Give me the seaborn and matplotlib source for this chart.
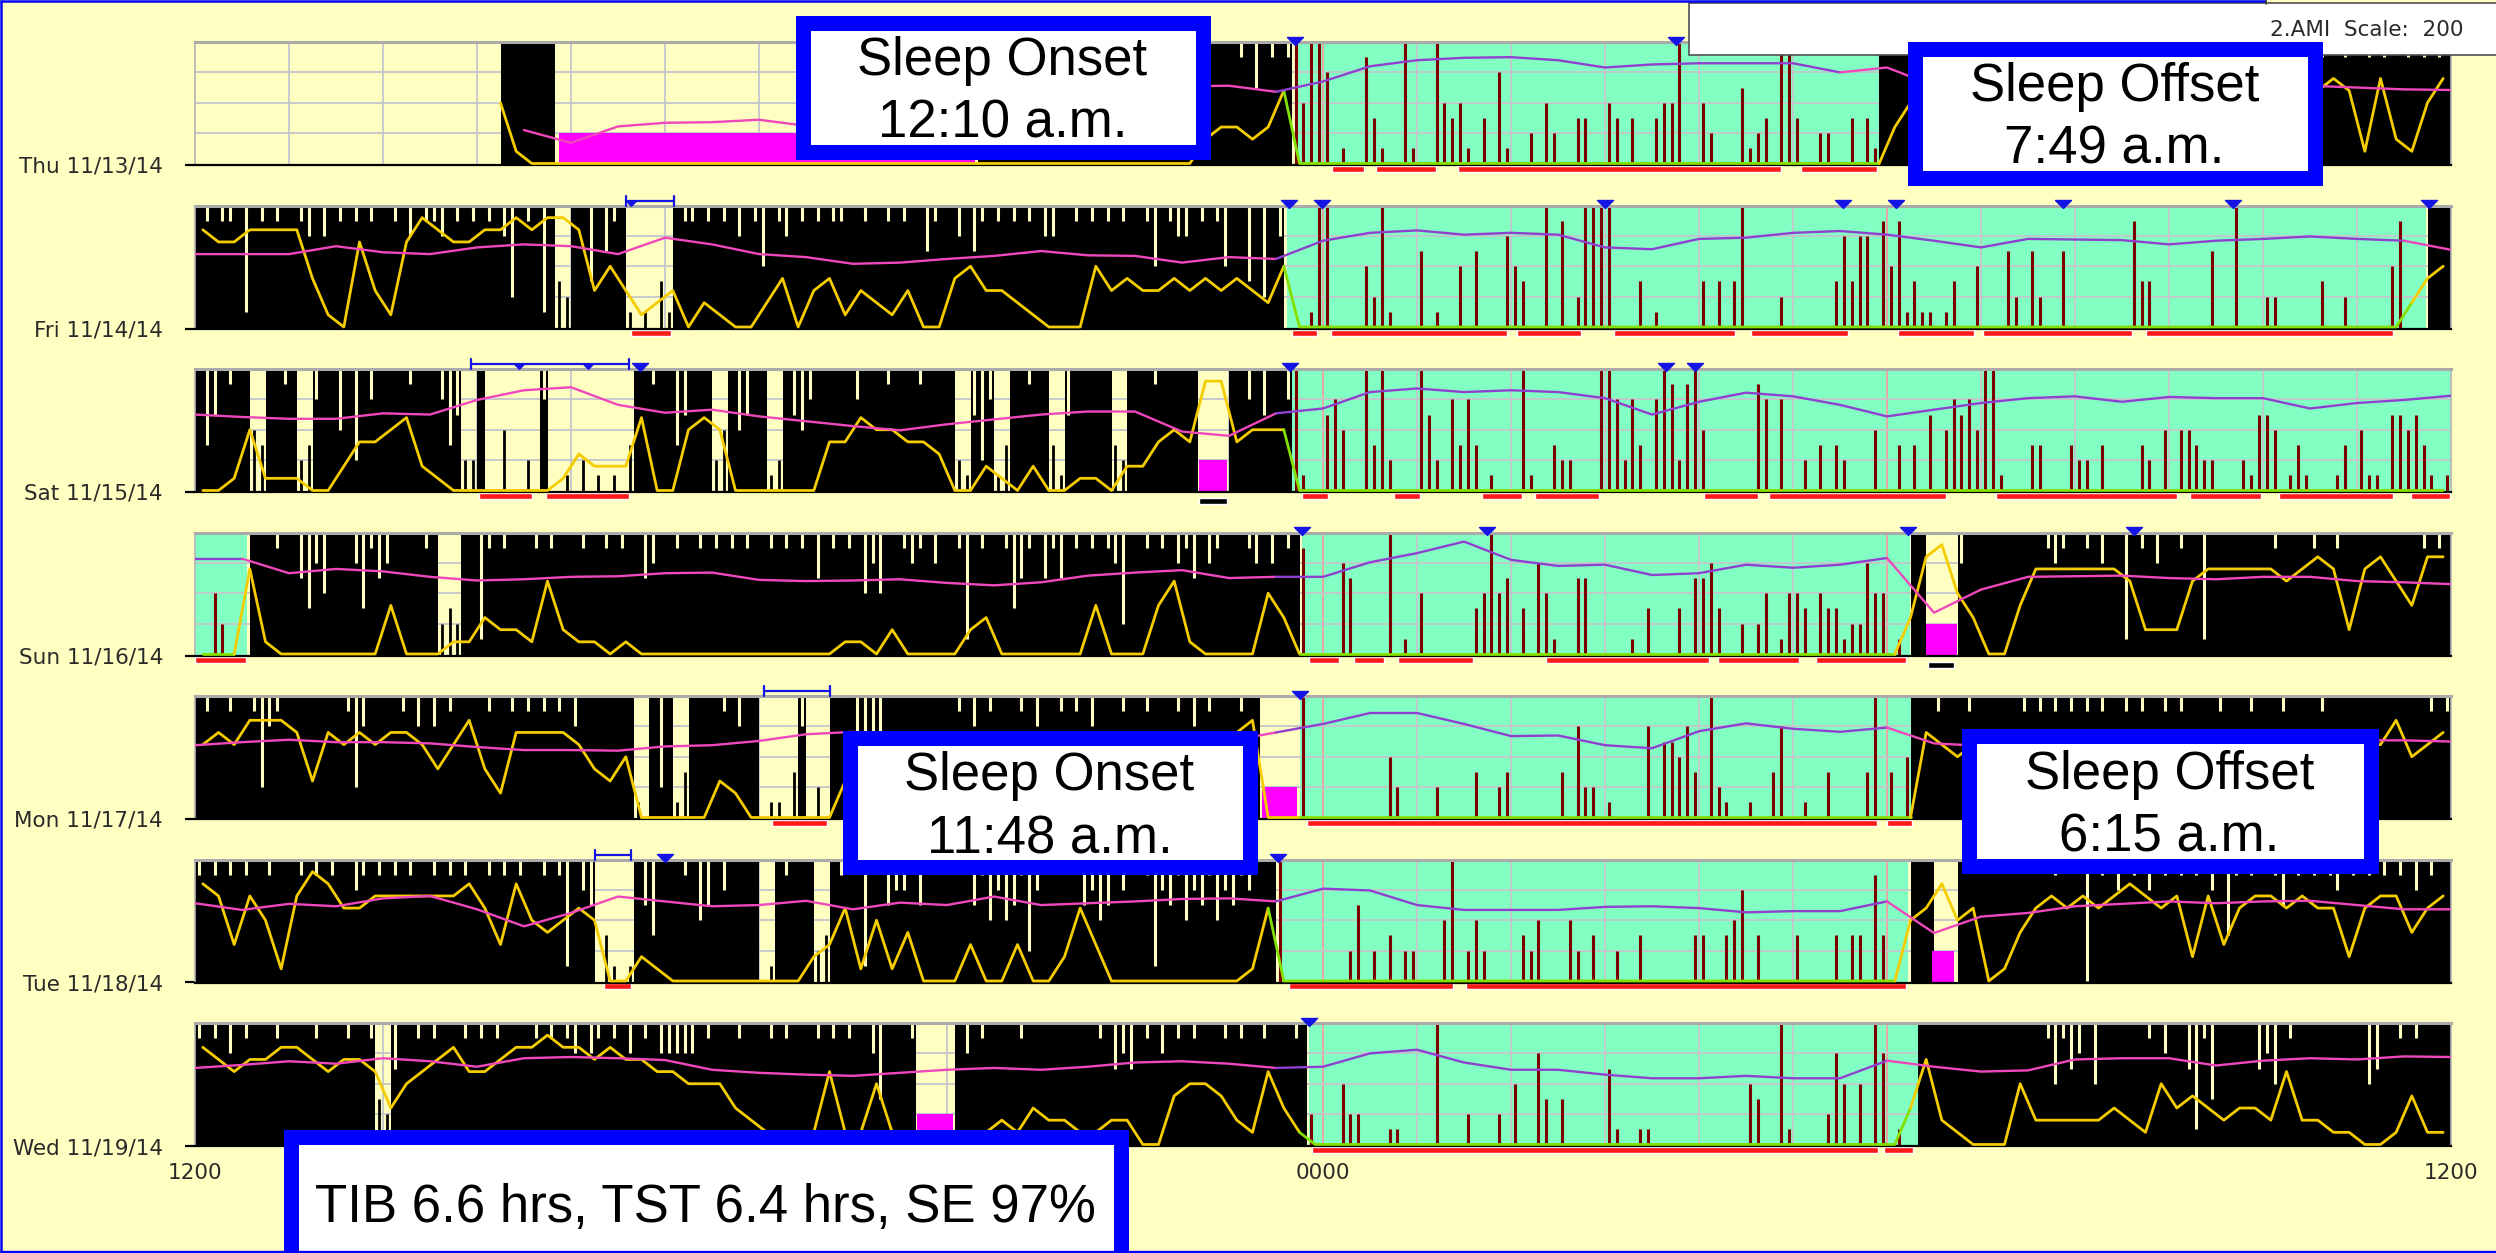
import numpy as np
import matplotlib
matplotlib.use("Agg")
import matplotlib.pyplot as plt
from matplotlib.patches import Rectangle
from matplotlib.path import Path
from matplotlib.transforms import Bbox
import seaborn as sns

nan = np.nan

# ---------------------------------------------------------------- data ----
DAY_LABELS = ["Thu 11/13/14", "Fri 11/14/14", "Sat 11/15/14", "Sun 11/16/14",
              "Mon 11/17/14", "Tue 11/18/14", "Wed 11/19/14"]
HOUR_TICKS = [0, 12, 24]
HOUR_TICK_LABELS = ["1200", "0000", "1200"]

# Activity in 5-minute epochs starting at noon, one 12-character group per hour.
# '0'..'9' = 25 counts per step on a 0-200 scale, '.' = no data / off-wrist.
ACT_THU = ["............", "............", "............", "...9999999..",
           "............", "............", "............", "............",
           "....99999999", "999799999979", "999979999799", "979587979499",
           "601007310081", "008434103061", "002042003300", "430300344900",
           "420005123099", "300220030319", "999999999999", "999999999999",
           "999999999999", "999999999999", "979799979879", "979789797879"]
ACT_FRI = ["979779197979", "976969797979", "979697769797", "979629791932",
           "893957910103", "197797979697", "497697979779", "979979799579",
           "969579797979", "669979797979", "974976697974", "993929600019",
           "900004281000", "501004050006", "430080702898", "900030100000",
           "303038000020", "000003636607", "471311013004", "000520520050",
           "000000073300", "000005009000", "220000030020", "000047000999"]
ACT_SAT = ["935978843897", "923698492869", "989799863522", "900400206001",
           "020101039979", "935999249459", "912954699999", "699879997999",
           "921526139979", "931599899329", "99799899....", "996959969100",
           "564008382000", "852063630100", "091003220008", "962630697279",
           "400000076060", "020303200040", "030305046564", "891000330003",
           "220300003204", "044322000215", "540131000130", "411055453101"]
ACT_SUN = ["004200099979", "953649996375", "699897923289", "179798979799",
           "979879798569", "979979797879", "979797959797", "946499767969",
           "971978973579", "575879797629", "979786758679", "997686979700",
           "006500009010", "400000034945", "030641005500", "000103000305",
           "563002024014", "430433122644", "01099....699", "999999997679",
           "979699197969", "979919998999", "979989799799", "999999997979"]
ACT_MON = ["979979972679", "999999972699", "997969697999", "979979797979",
           "699999991092", "913999979699", "011036020999", "555599999999",
           "979697999796", "997979699979", "979997969799", "9799.....900",
           "000000004200", "002000030023", "000000306220", "100006055463",
           "092100100360", "010030000390", "304999799979", "999997979797",
           "979799797997", "979999799979", "997999979999", "999999999797"]
ACT_TUE = ["797979789789", "979797996797", "979789797879", "979797897971",
           "965031019539", "997945969999", "019799923979", "919956695999",
           "999574645726", "999995645969", "971657465746", "576999900000",
           "000250203022", "000490242000", "032400042030", "020030000003",
           "300346030000", "300003033073", "000999...999", "999999999799",
           "909796979697", "979796937979", "975979797697", "979797969799"]
ACT_WED = ["797969799979", "999799979973", "259979799979", "797999979797",
           "696797969796", "666697999799", "979799979797", "99639997....",
           ".96979999799", "999999979565", "979697979997", "979979997920",
           "004220001100", "009000200020", "400630300000", "510011000000",
           "000000430091", "000026404096", "010099999999", "999999997475",
           "684999999796", "995173899995", "648799999999", "945997979998"]

# Light level in 10-minute epochs, six characters per hour, 20 units per step.
LIGHT_THU = ["......", "......", "......", ".51000", "000000", "000000",
             "000000", "000000", "000000", "000000", "000023", "323600",
             "000000", "000000", "000000", "000000", "000000", "000000",
             "356666", "666666", "666666", "666666", "666676", "172157"]
LIGHT_FRI = ["877888", "841073", "179877", "889899", "835312", "302100",
             "240341", "321300", "453321", "000534", "334343", "432500",
             "000000", "000000", "000000", "000000", "000000", "000000",
             "000000", "000000", "000000", "000000", "000000", "000245"]
LIGHT_SAT = ["001511", "100244", "562100", "000001", "322260", "056500",
             "000044", "655443", "002102", "001102", "245499", "455500",
             "000000", "000000", "000000", "000000", "000000", "000000",
             "000000", "000000", "000000", "000000", "000000", "000000"]
LIGHT_SUN = ["000710", "000000", "400011", "322162", "110100", "000000",
             "000001", "102000", "023000", "000400", "046100", "005300",
             "000000", "000000", "000000", "000000", "000000", "000000",
             "038953", "004777", "777622", "267777", "767872", "786488"]
LIGHT_MON = ["676888", "737676", "776468", "427777", "643500", "000320",
             "000003", "566666", "666666", "666666", "666666", "780000",
             "000000", "000000", "000000", "000000", "000000", "000000",
             "007656", "666666", "666666", "666666", "666666", "668567"]
LIGHT_TUE = ["873751", "798667", "777778", "638545", "650021", "000000",
             "000236", "151400", "030030", "026300", "000000", "016000",
             "000000", "000000", "000000", "000000", "000000", "000000",
             "056856", "014676", "767876", "727367", "767662", "677467"]
LIGHT_WED = ["876778", "876776", "356786", "678898", "878776", "655532",
             "111161", "151100", "011213", "221122", "004554", "216310",
             "000000", "000000", "000000", "000000", "000000", "000000",
             "037210", "005222", "223215", "343233", "262211", "001411"]

# Smoothed second channel (magenta trace), every half hour from noon.
AUX_THU = [nan, nan, nan, nan, nan, nan, nan, 55, 34, 61, 67, 68, 72, 62, 70, 80,
           90, 100, 108, 116, 122, 127, 128, 118, 135, 160, 170, 174, 175, 170,
           158, 163, 165, 165, 165, 150, 158, 128, 128, 128, 129, 129, 128, 128,
           129, 128, 125, 122, 121]
AUX_FRI = [120, 120, 120, 133, 123, 120, 131, 136, 133, 120, 147, 136, 120, 115,
           104, 106, 112, 117, 125, 118, 117, 106, 115, 112, 142, 155, 159, 152,
           155, 152, 131, 128, 145, 147, 155, 158, 152, 142, 131, 145, 144, 143,
           136, 142, 145, 149, 145, 142, 127]
AUX_SAT = [125, 121, 118, 118, 127, 125, 149, 165, 170, 141, 128, 133, 122, 114,
           106, 99, 109, 117, 125, 130, 130, 97, 90, 127, 135, 162, 168, 162,
           165, 162, 152, 125, 146, 161, 155, 141, 122, 133, 144, 152, 155, 146,
           154, 152, 152, 135, 144, 149, 156]
AUX_SUN = [157, 157, 133, 140, 136, 127, 121, 123, 127, 128, 133, 134, 122, 120,
           121, 123, 117, 113, 118, 129, 134, 138, 125, 127, 127, 151, 166, 185,
           155, 145, 147, 130, 133, 147, 142, 147, 158, 68, 106, 127, 128, 129,
           125, 123, 127, 127, 120, 118, 115]
AUX_MON = [119, 124, 128, 124, 124, 122, 116, 111, 111, 110, 117, 119, 126, 137,
           141, 135, 140, 138, 136, 134, 132, 130, 126, 140, 154, 172, 172, 154,
           134, 135, 119, 114, 142, 155, 146, 141, 148, 122, 118, 120, 122, 122,
           124, 124, 125, 126, 127, 127, 125]
AUX_TUE = [128, 117, 127, 123, 136, 140, 118, 90, 112, 139, 131, 123, 125, 132,
           118, 129, 125, 139, 125, 128, 131, 135, 136, 131, 152, 149, 125, 117,
           117, 117, 122, 123, 120, 113, 115, 115, 131, 79, 106, 112, 123, 127,
           131, 128, 131, 132, 125, 118, 118]
AUX_WED = [126, 131, 137, 133, 142, 137, 128, 142, 144, 142, 139, 123, 118, 115,
           113, 118, 123, 126, 123, 128, 135, 137, 133, 126, 128, 150, 156, 135,
           123, 123, 115, 109, 109, 113, 109, 109, 138, 128, 120, 122, 140, 142,
           142, 130, 138, 142, 140, 145, 144]

# Rest intervals (hours after noon), shaded green.
REST_THU = [(11.70, 17.92)]
REST_FRI = [(11.62, 23.73)]
REST_SAT = [(11.65, 24.00)]
REST_SUN = [(0.00, 0.55), (11.78, 18.24)]
REST_MON = [(11.76, 18.28)]
REST_TUE = [(11.53, 18.22)]
REST_WED = [(11.85, 18.36)]

# Off-wrist periods.
OFF_THU = [(3.87, 8.30)]
OFF_FRI = []
OFF_SAT = [(10.68, 10.98)]
OFF_SUN = [(18.42, 18.74)]
OFF_MON = [(11.35, 11.72)]
OFF_TUE = [(18.48, 18.71)]
OFF_WED = [(7.68, 8.06)]
OFFWRIST_LEVEL = 50

# Scored sleep segments (red bars under each day).
SLEEP_THU = [(12.10, 12.44), (12.56, 13.20), (13.44, 16.87), (17.09, 17.89)]
SLEEP_FRI = [(4.64, 5.06), (11.67, 11.94), (12.09, 13.96), (14.06, 14.74),
             (15.10, 16.38), (16.55, 17.58), (18.12, 18.93), (19.02, 20.61),
             (20.75, 23.38)]
SLEEP_SAT = [(3.02, 3.59), (3.73, 4.62), (11.78, 12.05), (12.75, 13.03),
             (13.69, 14.12), (14.25, 14.94), (16.05, 16.63), (16.74, 18.63),
             (19.16, 21.09), (21.22, 21.98), (22.17, 23.38), (23.57, 23.99)]
SLEEP_SUN = [(0.00, 0.54), (11.85, 12.17), (12.33, 12.65), (12.80, 13.60),
             (14.37, 16.11), (16.20, 17.06), (17.24, 18.20)]
SLEEP_MON = [(6.14, 6.72), (11.83, 17.89), (18.00, 18.27)]
SLEEP_TUE = [(4.35, 4.64), (11.64, 13.38), (13.52, 18.20)]
SLEEP_WED = [(11.88, 17.90), (17.97, 18.28)]

# Event markers (blue triangles) and marked intervals (blue brackets).
MARKS_THU = [11.70, 15.75]
MARKS_FRI = [11.64, 11.99, 15.00, 17.53, 18.10, 19.87, 21.68, 23.77]
MARKS_SAT = [4.73, 11.65, 15.65, 15.96]
MARKS_SUN = [11.78, 13.74, 18.22, 20.63]
MARKS_MON = [11.76]
MARKS_TUE = [5.00, 11.52]
MARKS_WED = [11.85]
BRACKETS_FRI = [(4.58, 5.10, [4.64])]
BRACKETS_SAT = [(2.94, 4.62, [3.45, 4.18])]
BRACKETS_MON = [(6.05, 6.75, [])]
BRACKETS_TUE = [(4.26, 4.64, [])]
WRIST_GAP_SAT = [(10.68, 10.98)]
WRIST_GAP_SUN = [(18.44, 18.71)]

NOTES = [
    (("Sleep Onset", "12:10 a.m."), (795, 15, 1210, 159)),
    (("Sleep Offset", "7:49 a.m."), (1907, 41, 2322, 185)),
    (("Sleep Onset", "11:48 a.m."), (842, 730, 1257, 874)),
    (("Sleep Offset", "6:15 a.m."), (1961, 728, 2378, 873)),
    (("TIB 6.6 hrs, TST 6.4 hrs, SE 97%",), (283, 1129, 1128, 1275)),
]
SCALE_TEXT = "2.AMI  Scale:  200"

ROWS = [
    dict(act=ACT_THU, light=LIGHT_THU, aux=AUX_THU, rest=REST_THU, off=OFF_THU,
         sleep=SLEEP_THU, marks=MARKS_THU, brackets=[], gaps=[]),
    dict(act=ACT_FRI, light=LIGHT_FRI, aux=AUX_FRI, rest=REST_FRI, off=OFF_FRI,
         sleep=SLEEP_FRI, marks=MARKS_FRI, brackets=BRACKETS_FRI, gaps=[]),
    dict(act=ACT_SAT, light=LIGHT_SAT, aux=AUX_SAT, rest=REST_SAT, off=OFF_SAT,
         sleep=SLEEP_SAT, marks=MARKS_SAT, brackets=BRACKETS_SAT, gaps=WRIST_GAP_SAT),
    dict(act=ACT_SUN, light=LIGHT_SUN, aux=AUX_SUN, rest=REST_SUN, off=OFF_SUN,
         sleep=SLEEP_SUN, marks=MARKS_SUN, brackets=[], gaps=WRIST_GAP_SUN),
    dict(act=ACT_MON, light=LIGHT_MON, aux=AUX_MON, rest=REST_MON, off=OFF_MON,
         sleep=SLEEP_MON, marks=MARKS_MON, brackets=BRACKETS_MON, gaps=[]),
    dict(act=ACT_TUE, light=LIGHT_TUE, aux=AUX_TUE, rest=REST_TUE, off=OFF_TUE,
         sleep=SLEEP_TUE, marks=MARKS_TUE, brackets=BRACKETS_TUE, gaps=[]),
    dict(act=ACT_WED, light=LIGHT_WED, aux=AUX_WED, rest=REST_WED, off=OFF_WED,
         sleep=SLEEP_WED, marks=MARKS_WED, brackets=[], gaps=[]),
]

# --------------------------------------------------------------- style ----
W, H, DPI = 2496, 1253, 100
BG = "#FFFFC2"
GREEN = "#82FFC2"
GRID = "#C4C6CC"
GRID_PINK = "#F2A0A0"
DARKRED = "#7C0000"
YELLOW = "#F5CC00"
LIME = "#84E000"
MAGENTA = "#F048BC"
PURPLE = "#9040D0"
FILL_MAGENTA = "#FF00FF"
RED = "#FF1A1A"
BLUE = "#1414E6"
LABEL_COLOR = "#2A2A2A"

sns.set_theme(style="white")
plt.rcParams["font.family"] = ["DejaVu Sans"]

fig = plt.figure(figsize=(W / DPI, H / DPI), dpi=DPI, facecolor=BG)

PANEL_LEFT, PANEL_WIDTH = 195, 2256
ROW_TOP0, ROW_PITCH, ROW_H = 42, 163.5, 123
BASE = -2.5                      # bottom of the value axis (zero sits just above it)
UPX = (200 - BASE) / ROW_H       # data units per pixel
ACTIVE = 125                     # epochs at or above this read as active (black column)

TRI = Path([(-1, 0.5), (1, 0.5), (0, -0.5), (-1, 0.5)],
           [Path.MOVETO, Path.LINETO, Path.LINETO, Path.CLOSEPOLY])


def decode(groups, per_hour, step):
    chars = "".join(g.ljust(per_hour, ".")[:per_hour] for g in groups)
    return np.array([nan if c == "." else step * int(c) for c in chars], dtype=float)


def inside(t, spans, closed=False):
    t = np.atleast_1d(t)
    if closed:
        return np.array([any(s <= v <= e for s, e in spans) for v in t], dtype=bool)
    return np.array([any(s <= v < e for s, e in spans) for v in t], dtype=bool)


def draw_runs(ax, x, y, colors, lw, z):
    n = len(y)
    i = 0
    while i < n:
        if np.isnan(y[i]):
            i += 1
            continue
        j = i
        while j + 1 < n and not np.isnan(y[j + 1]) and colors[j + 1] == colors[i]:
            j += 1
        lo = i - 1 if (i > 0 and not np.isnan(y[i - 1])) else i
        if j + 1 - lo >= 2:
            sns.lineplot(x=x[lo:j + 1], y=y[lo:j + 1], ax=ax, color=colors[i],
                         linewidth=lw, estimator=None, sort=False, legend=False,
                         zorder=z)
        i = j + 1


def draw_row(ax, row, label, last):
    ax.set_facecolor(BG)

    for s, e in row["rest"]:
        ax.axvspan(s, e, color=GREEN, lw=0, zorder=0.5)
    for hh in range(1, 24):
        ax.axvline(hh, color=GRID_PINK if hh in (12, 18) else GRID, lw=1.3, zorder=1)
    for yy in (50, 100, 150):
        ax.axhline(yy, color=GRID, lw=1.3, zorder=1)

    # activity epochs
    act = decode(row["act"], 12, 25)
    e5 = np.arange(289) / 12.0
    c5 = (e5[:-1] + e5[1:]) / 2
    rest5 = inside(c5, row["rest"])
    off5 = inside(c5, row["off"])
    ok = ~np.isnan(act)
    v = np.nan_to_num(act)
    wake = ok & ~rest5 & ~off5
    hi = wake & (v >= ACTIVE)
    lo = wake & ~hi
    solo = lo & np.r_[False, hi[:-1]] & np.r_[hi[1:], False]
    col = hi | solo
    # active epochs: black column, with a thin light streak down to the epoch value
    ytop = np.where(col, 200.0, nan)
    ax.fill_between(np.repeat(e5, 2)[1:-1], BASE, np.repeat(ytop, 2),
                    color="black", lw=0, zorder=2)
    dip = col & (v < 200)
    ax.vlines(c5[dip], v[dip], 200, color=BG, lw=2.2, zorder=2.1)
    # quiet epochs: thin black spikes
    spk = lo & ~solo & (v > 0)
    ax.vlines(c5[spk], BASE, v[spk], color="black", lw=2.0, zorder=2)
    # activity during rest
    sl = rest5 & ok & (v > 0)
    ax.vlines(c5[sl], BASE, v[sl], color=DARKRED, lw=2.2, zorder=2)

    for s, e in row["off"]:
        ax.fill_between([s, e], BASE, OFFWRIST_LEVEL, color=FILL_MAGENTA, lw=0, zorder=2)

    # light trace (yellow while awake, lime while at rest)
    light = decode(row["light"], 6, 20)
    c10 = (np.arange(144) + 0.5) / 6.0
    lcol = np.where(inside(c10, row["rest"]), LIME, YELLOW)
    draw_runs(ax, c10, light, lcol, 2.0, 4)

    # magenta / purple trace
    aux = np.array(row["aux"], dtype=float)
    th = np.arange(len(aux)) * 0.5
    acol = np.where(inside(th, row["rest"], closed=True), PURPLE, MAGENTA)
    draw_runs(ax, th, aux, acol, 1.7, 5)

    # scored sleep and off-wrist bars under the panel
    if row["sleep"]:
        ax.broken_barh([(s, e - s) for s, e in row["sleep"]], (BASE - 7 * UPX, 6 * UPX),
                       facecolors=RED, clip_on=False, zorder=3)
    if row["gaps"]:
        ax.broken_barh([(s, e - s) for s, e in row["gaps"]], (BASE - 12.5 * UPX, 6 * UPX),
                       facecolors="black", clip_on=False, zorder=3)

    # markers and brackets above the panel
    if row["marks"]:
        ax.plot(row["marks"], [200 + 1.5 * UPX] * len(row["marks"]), ls="none",
                marker=TRI, ms=11.5, color=BLUE, mec=BLUE, clip_on=False, zorder=6)
    for s, e, inner in row["brackets"]:
        yl = 200 + 5 * UPX
        ax.plot([s, e], [yl, yl], color=BLUE, lw=1.6, clip_on=False, zorder=6)
        for xx in (s, e):
            ax.plot([xx, xx], [200, 200 + 10 * UPX], color=BLUE, lw=1.6,
                    clip_on=False, zorder=6)
        if inner:
            ax.plot(inner, [yl - 2.5 * UPX] * len(inner), ls="none", marker=TRI,
                    ms=8, color=BLUE, mec=BLUE, clip_on=False, zorder=6)

    # frame
    ax.spines["top"].set_color("#ABABAB")
    ax.spines["top"].set_linewidth(2.2)
    for side in ("left", "right"):
        ax.spines[side].set_color("#B4B4B4")
        ax.spines[side].set_linewidth(1.2)
    ax.spines["bottom"].set_color("black")
    ax.spines["bottom"].set_linewidth(1.6)
    for sp in ax.spines.values():
        sp.set_zorder(3)

    ax.set_xlim(0, 24)
    ax.set_ylim(BASE, 200)
    ax.set_yticks([BASE])
    ax.set_yticklabels([label])
    ax.tick_params(axis="y", left=True, length=7, width=1.6, color="black", pad=16,
                   labelsize=15.5, labelcolor=LABEL_COLOR)
    if last:
        ax.set_xticks(HOUR_TICKS)
        ax.set_xticklabels(HOUR_TICK_LABELS)
        ax.tick_params(axis="x", bottom=True, length=0, pad=12, labelsize=15.5,
                       labelcolor=LABEL_COLOR)
    else:
        ax.set_xticks([])
    ax.set_xlabel("")
    ax.set_ylabel("")


for i, (row, label) in enumerate(zip(ROWS, DAY_LABELS)):
    top = ROW_TOP0 + ROW_PITCH * i
    ax = fig.add_axes([PANEL_LEFT / W, 1 - (top + ROW_H) / H, PANEL_WIDTH / W, ROW_H / H])
    draw_row(ax, row, label, i == len(ROWS) - 1)

# ------------------------------------------------------------ overlays ----
ov = fig.add_axes([0, 0, 1, 1], zorder=20)
ov.set_xlim(0, W)
ov.set_ylim(H, 0)
ov.axis("off")

# window border and file/scale box
ov.plot([1.2, 1.2], [0, H], color="#0000FF", lw=1.8, solid_capstyle="butt")
ov.plot([0, 2266], [1.2, 1.2], color="#0000FF", lw=1.8, solid_capstyle="butt")
ov.plot([0, W], [H - 1.5, H - 1.5], color="#0000FF", lw=2.4, solid_capstyle="butt")
ov.add_patch(Rectangle((1689, 3), 900, 52, facecolor="white", edgecolor="#505050", lw=1.2))
ov.plot([2266, 2266], [0, 4], color="#404040", lw=1.2)
st = ov.text(2464, 30, SCALE_TEXT, ha="right", va="center", fontsize=15.5,
             color=LABEL_COLOR)
st.set_clip_box(Bbox([[2268, 0], [W, H]]))
st.set_clip_on(True)

# annotation boxes
BORDER = 15
for lines, (x0, y0, x1, y1) in NOTES:
    ov.add_patch(Rectangle((x0 + BORDER / 2, y0 + BORDER / 2), x1 - x0 - BORDER,
                           y1 - y0 - BORDER, facecolor="white", edgecolor="#0000FF",
                           lw=BORDER * 0.72, joinstyle="miter"))
    cx = (x0 + x1) / 2
    if len(lines) == 2:
        cy = (y0 + y1) / 2
        baselines = [cy - 12, cy + 51]
    else:
        baselines = [1222]
    for text, yb in zip(lines, baselines):
        ov.text(cx, yb, text, ha="center", va="baseline", fontsize=38,
                family=["Liberation Sans", "DejaVu Sans"], color="black")

fig.savefig("out.png", dpi=DPI, facecolor=BG)
